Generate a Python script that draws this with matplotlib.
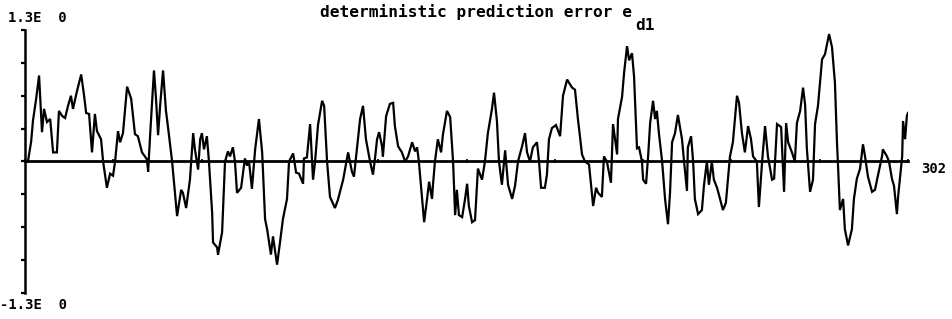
import numpy as np
import matplotlib
matplotlib.use("Agg")
import matplotlib.pyplot as plt

# sample position (0..302) and error value of the turning points
n = [0, 1.0, 2.1, 2.7, 3.8, 4.8, 5.8, 6.5, 7.5, 8.6, 9.6, 10.9, 11.6, 12.7, 13.7,
     14.7, 15.7, 16.4, 17.8, 19.2, 20.2, 20.9, 21.9, 22.9, 23.9, 24.6, 26.0, 26.7,
     28.0, 29.1, 30.1, 30.8, 31.8, 32.5, 33.5, 34.9, 36.3, 37.6, 38.6, 39.3, 40.0,
     41.0, 41.7, 42.1, 42.8, 44.1, 44.8, 45.5, 46.2, 47.2, 48.2, 48.9, 50.3, 52.0,
     53.4, 54.0, 55.1, 56.4, 57.5, 58.1, 59.2, 59.9, 60.5, 61.2, 62.2, 62.9, 64.0,
     64.3, 65.7, 66.0, 67.4, 68.4, 69.4, 70.1, 71.1, 71.8, 72.5, 73.9, 75.2, 75.9,
     76.6, 77.6, 78.7, 80.0, 81.1, 82.1, 82.8, 84.1, 84.8, 86.2, 87.2, 88.2, 89.6,
     90.3, 91.7, 92.7, 93.7, 95.1, 95.4, 96.4, 97.5, 98.5, 99.2, 100.2, 101.6,
     102.3, 103.3, 104.3, 106.0, 107.0, 108.8, 110.5, 111.8, 112.5, 113.5, 114.6,
     115.6, 116.6, 118.0, 119.0, 119.7, 120.4, 121.1, 122.1, 122.4, 123.5, 124.8,
     125.9, 126.5, 127.6, 128.9, 130.0, 131.0, 132.4, 133.4, 134.1, 134.7, 135.8,
     136.5, 137.5, 138.2, 139.2, 139.5, 140.2, 141.2, 142.3, 142.9, 144.3, 145.4,
     146.4, 147.1, 147.7, 148.4, 149.5, 150.5, 151.2, 151.8, 152.9, 153.9, 154.9,
     156.3, 157.3, 158.3, 159.7, 160.4, 161.4, 162.1, 163.1, 164.2, 165.2, 166.6,
     167.6, 168.6, 170.0, 171.0, 171.7, 172.7, 173.7, 175.1, 175.8, 176.5, 177.8,
     178.5, 179.2, 180.2, 181.6, 183.0, 184.0, 185.4, 187.1, 188.1, 189.1, 190.5,
     191.5, 192.9, 194.3, 195.3, 196.0, 197.3, 198.0, 199.0, 200.4, 201.1, 201.8,
     202.5, 202.8, 204.2, 204.9, 205.9, 206.6, 207.6, 208.3, 209.3, 210.0, 211.0,
     211.4, 212.4, 213.1, 213.8, 214.8, 215.5, 216.1, 216.8, 217.9, 218.9, 219.9,
     220.6, 221.3, 222.3, 223.3, 224.7, 225.4, 226.4, 226.7, 227.8, 228.5, 229.1,
     230.2, 231.5, 232.2, 233.2, 233.9, 234.9, 235.6, 236.7, 237.7, 238.7, 239.7,
     241.1, 242.1, 243.5, 244.2, 245.2, 246.2, 247.3, 248.3, 249.0, 250.3, 251.0,
     252.1, 253.1, 254.1, 255.5, 256.2, 257.2, 258.6, 259.6, 260.3, 261.0, 262.3,
     263.3, 264.0, 265.1, 266.1, 266.8, 267.4, 268.5, 269.5, 270.2, 271.2, 272.6,
     273.6, 275.0, 276.0, 277.0, 277.7, 278.0, 278.7, 279.8, 280.4, 281.5, 282.8,
     283.5, 284.5, 285.6, 286.6, 287.3, 288.3, 289.7, 290.7, 291.7, 293.1, 293.4,
     294.8, 295.5, 296.5, 297.2, 298.2, 298.6, 300.0, 300.3, 301.0, 301.6, 302.0]

e_d1 = [0, 0, 0.2, 0.4, 0.62, 0.85, 0.29, 0.52, 0.39, 0.42, 0.09, 0.09, 0.5, 0.45,
        0.43, 0.55, 0.65, 0.52, 0.7, 0.86, 0.65, 0.48, 0.47, 0.09, 0.47, 0.3, 0.22,
        0, -0.26, -0.12, -0.14, 0, 0.3, 0.19, 0.28, 0.74, 0.62, 0.27, 0.25, 0.17,
        0.09, 0.05, 0.02, -0.1, 0.27, 0.9, 0.62, 0.26, 0.55, 0.9, 0.5, 0.34, 0,
        -0.54, -0.28, -0.31, -0.46, -0.18, 0.28, 0.12, -0.08, 0.22, 0.28, 0.12,
        0.25, 0, -0.51, -0.8, -0.85, -0.92, -0.7, 0, 0.1, 0.05, 0.14, 0, -0.31,
        -0.26, 0.03, -0.04, 0, -0.27, 0.12, 0.42, 0.09, -0.57, -0.67, -0.92, -0.74,
        -1.02, -0.8, -0.57, -0.37, 0, 0.08, -0.11, -0.12, -0.22, 0.03, 0.04, 0.37,
        -0.18, 0, 0.36, 0.6, 0.55, 0, -0.35, -0.46, -0.38, -0.18, 0.09, -0.1,
        -0.15, 0.12, 0.42, 0.55, 0.22, 0, -0.13, 0.03, 0.22, 0.29, 0.15, 0.05,
        0.45, 0.57, 0.58, 0.35, 0.15, 0.09, 0, 0.05, 0.19, 0.1, 0.14, 0, -0.37,
        -0.6, -0.37, -0.2, -0.37, -0.24, 0, 0.22, 0.09, 0.26, 0.5, 0.44, 0, -0.53,
        -0.28, -0.53, -0.55, -0.37, -0.22, -0.44, -0.6, -0.58, -0.07, -0.18, 0,
        0.28, 0.52, 0.68, 0.4, 0, -0.23, 0.11, -0.23, -0.37, -0.24, 0, 0.15, 0.28,
        0.09, 0, 0.14, 0.19, 0, -0.26, -0.26, -0.13, 0.22, 0.33, 0.36, 0.25, 0.65,
        0.81, 0.73, 0.71, 0.42, 0.07, 0, -0.03, -0.44, -0.26, -0.31, -0.35, 0.05,
        0, -0.21, 0.37, 0.22, 0.07, 0.42, 0.64, 0.88, 1.14, 1.0, 1.07, 0.84, 0.13,
        0.14, 0, -0.18, -0.22, 0.05, 0.38, 0.6, 0.42, 0.5, 0.28, 0, -0.37, -0.62,
        -0.31, 0.19, 0.28, 0.46, 0.22, 0, -0.29, 0.14, 0.25, 0, -0.37, -0.52,
        -0.48, -0.24, 0, -0.23, 0, -0.18, -0.26, -0.37, -0.48, -0.41, 0.05, 0.19,
        0.65, 0.58, 0.28, 0.09, 0.35, 0.22, 0.05, 0, -0.45, 0, 0.35, 0.05, -0.18,
        -0.17, 0.37, 0.34, -0.3, 0.38, 0.19, 0.09, 0, 0.38, 0.5, 0.73, 0.56, 0.13,
        -0.3, -0.18, 0.37, 0.55, 1.01, 1.06, 1.26, 1.13, 0.78, 0.19, 0, -0.48,
        -0.37, -0.67, -0.83, -0.67, -0.37, -0.17, -0.07, 0.17, 0.05, -0.15, -0.3,
        -0.28, -0.14, 0.05, 0.12, 0.05, 0, -0.17, -0.24, -0.52, -0.35, 0.05, 0.4,
        0.22, 0.45, 0.48]

N_SAMPLES = 302
Y_MAX = 1.3
Y_TICKS = [-1.3, -0.975, -0.65, -0.325, 0, 0.325, 0.65, 0.975, 1.3]
X_TICKS = np.linspace(0, N_SAMPLES, 11)

FONT = "DejaVu Sans Mono"
plt.rcParams.update({"font.family": FONT, "font.weight": "bold"})

fig = plt.figure(figsize=(9.52, 3.19), dpi=100)
ax = fig.add_axes([0.0263, 0.0815, 0.9275, 0.8245])

ax.plot(n, e_d1, color="black", lw=1.6, solid_joinstyle="miter")
ax.set_xlim(0, N_SAMPLES)
ax.set_ylim(-Y_MAX, Y_MAX)

for s in ["top", "right"]:
    ax.spines[s].set_visible(False)
ax.spines["left"].set_linewidth(1.8)
ax.spines["bottom"].set_position(("data", 0))
ax.spines["bottom"].set_linewidth(2.0)

ax.set_yticks(Y_TICKS)
ax.set_yticklabels([])
ax.tick_params(axis="y", direction="out", length=3, width=1.6)
ax.set_xticks(X_TICKS)
ax.set_xticklabels([])
ax.tick_params(axis="x", direction="inout", length=3, width=1.2)

fig.text(0.008, 0.945, "1.3E  0", fontsize=10, fontweight="bold", va="center")
fig.text(0.0, 0.045, "-1.3E  0", fontsize=10, fontweight="bold", va="center")
fig.text(0.968, 0.47, "302", fontsize=10, fontweight="bold", va="center")
fig.text(0.336, 0.962, "deterministic prediction error e", fontsize=11.6,
         fontweight="bold", ha="left", va="center")
fig.text(0.667, 0.92, "d1", fontsize=11.6, fontweight="bold", ha="left", va="center")

fig.savefig("out.png", dpi=100, facecolor="white")
